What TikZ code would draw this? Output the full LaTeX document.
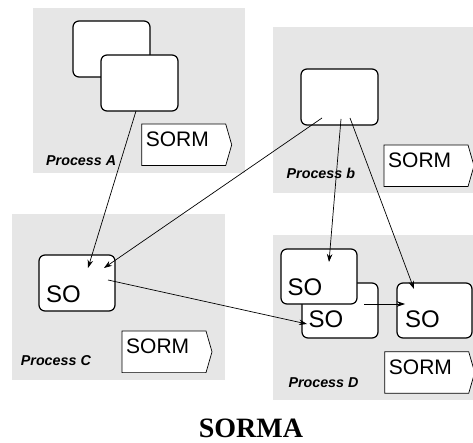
\documentclass[tikz,border=0pt]{standalone}
\usepackage{fontspec}
\setmainfont{Liberation Serif}
\setsansfont{Liberation Sans}
\usetikzlibrary{calc,arrows.meta}

\definecolor{panelgray}{RGB}{230,230,230}

\tikzset{
  panel/.style={fill=panelgray, draw=none},
  sobox/.style={draw, fill=white, line width=1.2pt, rounded corners=6pt,
    minimum width=77pt, minimum height=56pt, inner sep=0pt},
  sotext/.style={font=\sffamily\fontsize{24}{24}\selectfont, inner sep=0pt},
  proclabel/.style={font=\sffamily\bfseries\itshape\fontsize{14.3}{14.3}\selectfont, inner sep=0pt},
  sormline/.style={draw, fill=white, line width=0.7pt},
  sormtext/.style={font=\sffamily\fontsize{21}{21}\selectfont, inner sep=0pt},
  conn/.style={line width=0.7pt, -{Stealth[length=8pt,width=5.5pt]}},
  titletext/.style={font=\rmfamily\bfseries\fontsize{28}{28}\selectfont, inner sep=0pt}
}

% SORM tag: rectangle with a pointed right side and its label
\newcommand\sormtag[3]{%
  \draw[sormline] (#2,#3) -- ++(84,0) -- ++(6,20.8) -- ++(-6,20.8) -- ++(-84,0) -- cycle;
  \node[sormtext, anchor=base west] (#1) at (#2+4,#3+22.8) {SORM};
}

\begin{document}
\begin{tikzpicture}[x=1pt,y=-1pt]
  \useasboundingbox (0,0) rectangle (473,443);

  % process panels
  \fill[panel] (33,8) rectangle (245,173);
  \fill[panel] (273,27) rectangle (473,193);
  \fill[panel] (12,214) rectangle (225,380);
  \fill[panel] (273,235) rectangle (473,400);

  % Process A
  \node[sobox] (a1) at (111.5,49) {};
  \node[sobox] (a2) at (139.5,83) {};
  \sormtag{sormA}{141.7}{124}
  \node[proclabel, anchor=base west] (labA) at (46,165.7) {Process A};

  % Process b
  \node[sobox] (bb) at (339.5,97) {};
  \sormtag{sormB}{384}{145}
  \node[proclabel, anchor=base west] (labB) at (286.5,178.3) {Process b};

  % Process C
  \node[sobox, minimum width=76pt] (cbox) at (77,283) {};
  \node[sotext, anchor=base west] (cso) at ($(cbox.south west)+(7.5,-9.5)$) {SO};
  \sormtag{sormC}{122}{331}
  \node[proclabel, anchor=base west] (labC) at (20.7,365.7) {Process C};

  % Process D
  \node[sobox, minimum width=76pt, minimum height=55pt] (d2) at (340,310.5) {};
  \node[sotext, anchor=base west] (d2so) at ($(d2.south west)+(7,-10.7)$) {SO};
  \node[sobox, minimum width=76pt, minimum height=55pt] (d1) at (319,276.5) {};
  \node[sotext, anchor=base west] (d1so) at ($(d1.south west)+(7,-9)$) {SO};
  \node[sobox, minimum width=75pt, minimum height=55pt] (d3) at (434.5,310.5) {};
  \node[sotext, anchor=base west] (d3so) at ($(d3.south west)+(8.5,-10.7)$) {SO};
  \sormtag{sormD}{384.7}{351.7}
  \node[proclabel, anchor=base west] (labD) at (288.3,387.7) {Process D};

  % connector end points inside the boxes
  \coordinate (a2out) at (136,111);
  \coordinate (bout1) at (322,118);
  \coordinate (bout2) at (341,119);
  \coordinate (bout3) at (350,118);
  \coordinate (cin1)  at (88,268);
  \coordinate (cin2)  at (104,268);
  \coordinate (cout)  at (108,280);
  \coordinate (d1in)  at (329,262);
  \coordinate (d2in)  at (307,324);
  \coordinate (d2out) at (364,304);
  \coordinate (d3in1) at (414,289);
  \coordinate (d3in2) at (405,304);

  % connectors
  \draw[conn] (a2out) -- (cin1);
  \draw[conn] (bout1) -- (cin2);
  \draw[conn] (bout2) -- (d1in);
  \draw[conn] (bout3) -- (d3in1);
  \draw[conn] (cout) -- (d2in);
  \draw[conn] (d2out) -- (d3in2);

  % title
  \node[titletext, anchor=base] (title) at (251,437) {SORMA};
\end{tikzpicture}
\end{document}
